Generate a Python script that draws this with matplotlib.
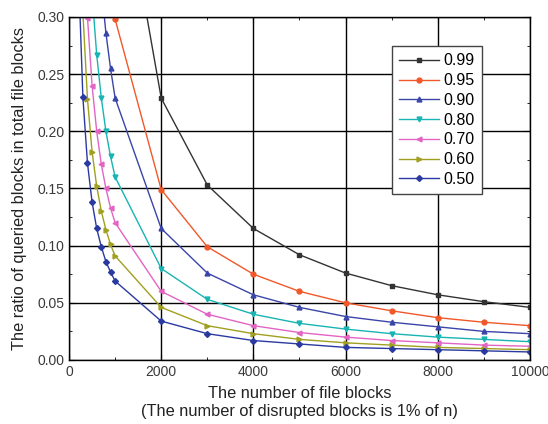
import numpy as np
import matplotlib
matplotlib.use("Agg")
import matplotlib.pyplot as plt
from matplotlib.ticker import MultipleLocator

plt.rcParams["font.family"] = ["Liberation Sans", "DejaVu Sans"]

nan = np.nan

# ── Data ──
n_blocks = [100, 200, 300, 400, 500, 600, 700, 800, 900, 1000,
            2000, 3000, 4000, 5000, 6000, 7000, 8000, 9000, 10000]

p099 = [nan, nan, nan, nan, nan, nan, nan, nan, nan, 0.458,
        0.229, 0.153, 0.115, 0.092, 0.076, 0.065, 0.057, 0.051, 0.046]
p095 = [nan, nan, nan, nan, nan, nan, nan, nan, 0.331, 0.298,
        0.149, 0.099, 0.075, 0.060, 0.050, 0.043, 0.037, 0.033, 0.030]
p090 = [nan, nan, nan, nan, nan, nan, 0.327, 0.286, 0.255, 0.229,
        0.115, 0.076, 0.057, 0.046, 0.038, 0.033, 0.029, 0.025, 0.023]
p080 = [nan, nan, nan, nan, 0.320, 0.267, 0.229, 0.200, 0.178, 0.160,
        0.080, 0.053, 0.040, 0.032, 0.027, 0.023, 0.020, 0.018, 0.016]
p070 = [nan, nan, 0.399, 0.2995, 0.240, 0.200, 0.171, 0.150, 0.133, 0.120,
        0.060, 0.040, 0.030, 0.024, 0.020, 0.017, 0.015, 0.013, 0.012]
p060 = [nan, nan, 0.304, 0.228, 0.182, 0.152, 0.130, 0.114, 0.101, 0.091,
        0.046, 0.030, 0.023, 0.018, 0.015, 0.013, 0.011, 0.010, 0.009]
p050 = [nan, 0.345, 0.230, 0.172, 0.138, 0.115, 0.099, 0.086, 0.077, 0.069,
        0.034, 0.023, 0.017, 0.014, 0.011, 0.010, 0.009, 0.008, 0.007]

labels = ["0.99", "0.95", "0.90", "0.80", "0.70", "0.60", "0.50"]
series = [p099, p095, p090, p080, p070, p060, p050]
colors = ["#333333", "#f0582a", "#3a45a8", "#18b4b4", "#e264c4", "#a0a020", "#2a3aa0"]
markers = ["s", "o", "^", "v", "<", ">", "D"]

fig = plt.figure(figsize=(5.48, 4.24), dpi=100)
ax = fig.add_axes([0.126, 0.151, 0.841, 0.809])

for vals, lab, col, mk in zip(series, labels, colors, markers):
    ms = 3.0 if mk == "D" else 3.5
    ax.plot(n_blocks, vals, color=col, marker=mk, markersize=ms,
            linewidth=1.0, label=lab)

ax.set_xlim(0, 10000)
ax.set_ylim(0, 0.30)
ax.xaxis.set_major_locator(MultipleLocator(2000))
ax.xaxis.set_minor_locator(MultipleLocator(1000))
ax.yaxis.set_major_locator(MultipleLocator(0.05))
ax.yaxis.set_minor_locator(MultipleLocator(0.025))
ax.set_yticklabels(["%.2f" % v for v in ax.get_yticks()])
ax.grid(True, which="major", color="black", linewidth=1.0)
ax.set_axisbelow(True)
ax.tick_params(which="both", direction="in", top=True, right=True,
               colors="black", labelcolor="#3a3a3a", labelsize=10)
ax.tick_params(which="major", length=4)
ax.tick_params(which="minor", length=2.5)
for spine in ax.spines.values():
    spine.set_edgecolor("black")
    spine.set_linewidth(1.0)

ax.set_xlabel("The number of file blocks\n(The number of disrupted blocks is 1% of n)",
              fontsize=11.8, color="#222222", linespacing=1.3, labelpad=5)
ax.set_ylabel("The ratio of queried blocks in total file blocks",
              fontsize=11.8, color="#222222", labelpad=7)

leg = ax.legend(loc="upper left", bbox_to_anchor=(0.70, 0.915), fontsize=11.5,
                fancybox=False, edgecolor="#444444", framealpha=1,
                handlelength=2.5, handletextpad=0.3, labelspacing=0.3,
                borderpad=0.45, borderaxespad=0)
leg.get_frame().set_linewidth(1.0)

fig.savefig("out.png", dpi=100)
